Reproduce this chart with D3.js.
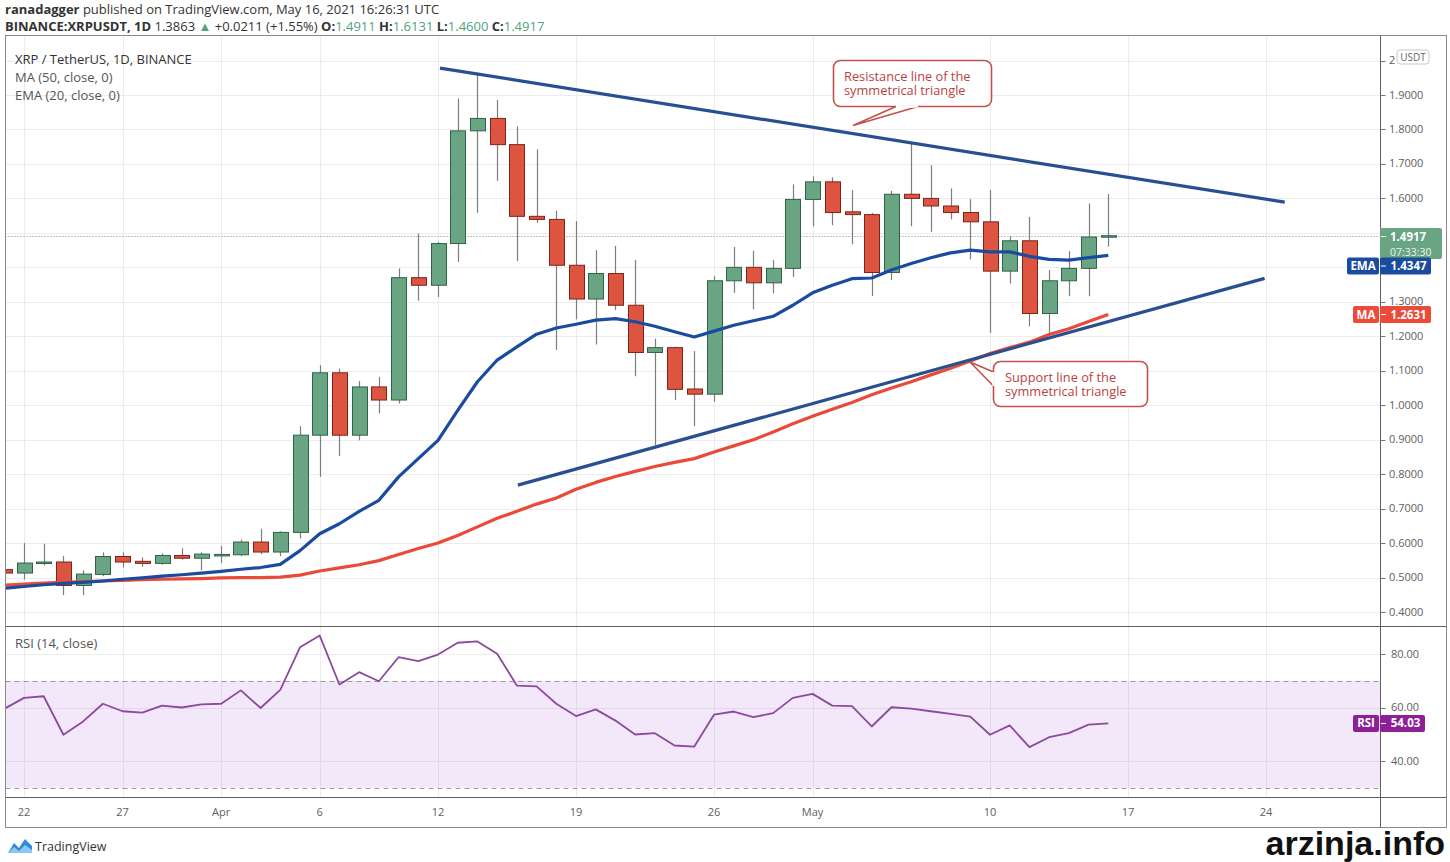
<!DOCTYPE html>
<html>
<head>
<meta charset="utf-8">
<script src="https://cdn.jsdelivr.net/npm/d3@7"></script>
<style>
  body { margin: 0; background: #fff; }
  svg { display: block; }
</style>
</head>
<body>
<svg id="chart" width="1450" height="862"></svg>
<script>
// XRP/USDT daily, Mar 21 .. May 16 2021 (day 0 = Mar 22)
const firstDay = -1;
const openP  = [0.523,0.513,0.541,0.545,0.477,0.509,0.561,0.547,0.541,0.564,0.556,
                0.567,0.566,0.603,0.574,0.631,0.913,1.094,0.913,1.053,1.015,1.370,1.348,1.469,1.796,1.832,1.756,1.548,1.539,1.406,1.308,1.382,1.290,1.153,1.167,1.047,1.032,1.361,1.400,1.355,1.397,
                1.597,1.648,1.561,1.553,1.385,1.612,1.600,1.578,1.559,1.532,1.389,1.477,1.266,1.361,1.397,1.4911];
const highP  = [0.530,0.600,0.598,0.562,0.521,0.573,0.573,0.558,0.570,0.585,0.573,
                0.592,0.610,0.641,0.634,0.939,1.116,1.106,1.070,1.082,1.397,1.498,1.474,1.890,1.964,1.885,1.809,1.742,1.564,1.534,1.450,1.462,1.421,1.193,1.170,1.157,1.374,1.459,1.448,1.421,1.641,
                1.664,1.661,1.624,1.558,1.622,1.764,1.696,1.629,1.598,1.624,1.490,1.546,1.392,1.447,1.585,1.6131];
const lowP   = [0.508,0.494,0.535,0.449,0.449,0.504,0.529,0.531,0.537,0.552,0.521,
                0.542,0.562,0.568,0.562,0.613,0.792,0.853,0.898,0.976,1.005,1.303,1.314,1.416,1.558,1.651,1.418,1.529,1.160,1.249,1.176,1.276,1.084,0.884,1.015,0.939,1.010,1.326,1.278,1.324,1.372,
                1.519,1.522,1.467,1.317,1.363,1.519,1.503,1.539,1.423,1.210,1.353,1.229,1.208,1.316,1.316,1.4600];
const closeP = [0.513,0.542,0.545,0.477,0.510,0.561,0.545,0.541,0.564,0.556,0.568,
                0.567,0.603,0.574,0.631,0.913,1.094,0.913,1.053,1.015,1.370,1.348,1.469,1.796,1.832,1.756,1.548,1.539,1.406,1.308,1.382,1.290,1.153,1.167,1.046,1.032,1.361,1.400,1.355,1.397,1.597,
                1.648,1.559,1.553,1.385,1.612,1.600,1.578,1.559,1.532,1.389,1.477,1.266,1.361,1.397,1.488,1.4917];
const ema20  = [0.469,0.474,0.479,0.483,0.486,0.490,0.495,0.499,0.504,0.508,0.513,
                0.518,0.524,0.529,0.538,0.578,0.627,0.656,0.692,0.724,0.792,0.845,0.898,0.985,1.068,1.131,1.169,1.206,1.224,1.235,1.247,1.251,1.242,1.229,1.213,1.198,1.215,1.232,1.245,1.258,1.290,
                1.326,1.348,1.367,1.369,1.392,1.411,1.428,1.442,1.450,1.445,1.445,1.432,1.423,1.421,1.428,1.4347];
const ma50   = [0.478,0.481,0.484,0.486,0.488,0.490,0.492,0.494,0.495,0.496,0.497,
                0.499,0.500,0.500,0.501,0.507,0.519,0.528,0.537,0.549,0.567,0.584,0.600,0.622,0.647,0.672,0.692,0.713,0.731,0.756,0.776,0.793,0.808,0.822,0.834,0.845,0.864,0.882,0.900,0.922,0.946,
                0.968,0.988,1.008,1.030,1.050,1.068,1.088,1.107,1.128,1.150,1.167,1.183,1.205,1.222,1.243,1.2631];
const rsi14  = [59.5,63.6,64.2,49.8,54.8,61.4,58.6,58.1,60.7,60.0,61.2,
                61.4,66.4,59.8,66.6,82.5,86.9,68.6,73.2,69.8,78.8,77.3,79.8,84.2,84.7,80.1,68.2,67.9,61.4,56.8,59.3,55.1,49.9,50.4,45.8,45.4,57.3,58.5,56.4,57.9,63.6,
                65.1,60.7,60.5,52.9,60.1,59.6,58.6,57.6,56.6,49.8,53.3,45.2,48.9,50.4,53.6,54.03];

const dayTicks   = [0, 5, 10, 15, 21, 28, 35, 40, 49, 56, 63];
const dayLabels  = ["22", "27", "Apr", "6", "12", "19", "26", "May", "10", "17", "24"];
const priceTicks = [0.4, 0.5, 0.6, 0.7, 0.8, 0.9, 1.0, 1.1, 1.2, 1.3, 1.4, 1.5, 1.6, 1.7, 1.8, 1.9, 2.0];
const rsiTicks   = [40, 60, 80];

// triangle drawn on the chart: [day, price]
const resistanceLine = [[21.1, 1.978], [63.95, 1.589]];
const supportLine    = [[25.05, 0.768], [62.93, 1.368]];

const lastPrice = 1.4917;
const FONT = "'Open Sans', 'Noto Sans', sans-serif";

const svg = d3.select("#chart");
const frame = {left: 5.5, right: 1446.5, top: 35.5, split: 626.5, rsiBottom: 797.5, bottom: 827.5, axis: 1380.5};

const x  = d3.scaleLinear().domain([0, 63]).range([24, 1266]);
const y  = d3.scaleLinear().domain([0.4, 1.9]).range([612, 95]);
const yr = d3.scaleLinear().domain([40, 80]).range([761, 654]);

const days = d3.range(openP.length).map(i => i + firstDay);
const candles = days.map((d, i) => ({day: d, o: openP[i], h: highP[i], l: lowP[i], c: closeP[i]}));

// clips
const defs = svg.append("defs");
defs.append("clipPath").attr("id", "clipPrice").append("rect")
    .attr("x", frame.left + 0.5).attr("y", frame.top + 0.5)
    .attr("width", frame.axis - frame.left - 1).attr("height", frame.split - frame.top - 1);
defs.append("clipPath").attr("id", "clipRsi").append("rect")
    .attr("x", frame.left + 0.5).attr("y", frame.split + 0.5)
    .attr("width", frame.axis - frame.left - 1).attr("height", frame.rsiBottom - frame.split - 1);

// header
const head1 = svg.append("text").attr("x", 5).attr("y", 14)
    .attr("font-family", FONT).attr("font-size", "13px").attr("fill", "#333");
head1.append("tspan").attr("font-weight", "bold").text("ranadagger");
head1.append("tspan").text(" published on TradingView.com, May 16, 2021 16:26:31 UTC");

const green = "#4fa37a";
const head2 = svg.append("text").attr("x", 5).attr("y", 31)
    .attr("font-family", FONT).attr("font-size", "13px").attr("fill", "#333");
head2.append("tspan").attr("font-weight", "bold").text("BINANCE:XRPUSDT, 1D");
head2.append("tspan").text(" 1.3863 ");
head2.append("tspan").attr("fill", green).text("▲");
head2.append("tspan").text(" +0.0211 (+1.55%) ");
[["O:", "1.4911"], ["H:", "1.6131"], ["L:", "1.4600"], ["C:", "1.4917"]].forEach(function (p, k) {
    head2.append("tspan").attr("font-weight", "bold").text((k ? " " : "") + p[0]);
    head2.append("tspan").attr("fill", green).text(p[1]);
});

// grid
const grid = svg.append("g").attr("stroke", "#ececec").attr("stroke-width", 1);
grid.selectAll(".vg").data(dayTicks).enter().append("line")
    .attr("x1", d => Math.round(x(d)) + 0.5).attr("x2", d => Math.round(x(d)) + 0.5)
    .attr("y1", frame.top).attr("y2", frame.rsiBottom);
grid.selectAll(".hg").data(priceTicks.filter(t => y(t) > frame.top)).enter().append("line")
    .attr("x1", frame.left).attr("x2", frame.axis)
    .attr("y1", d => Math.round(y(d)) + 0.5).attr("y2", d => Math.round(y(d)) + 0.5);
grid.selectAll(".rg").data(rsiTicks).enter().append("line")
    .attr("x1", frame.left).attr("x2", frame.axis)
    .attr("y1", d => Math.round(yr(d)) + 0.5).attr("y2", d => Math.round(yr(d)) + 0.5);

// RSI band 70-30
svg.append("rect").attr("x", frame.left).attr("width", frame.axis - frame.left)
    .attr("y", yr(70)).attr("height", yr(30) - yr(70))
    .attr("fill", "#a040d0").attr("fill-opacity", 0.12);
svg.selectAll(".band").data([70, 30]).enter().append("line")
    .attr("x1", frame.left).attr("x2", frame.axis)
    .attr("y1", d => Math.round(yr(d)) + 0.5).attr("y2", d => Math.round(yr(d)) + 0.5)
    .attr("stroke", "#9a9a9a").attr("stroke-dasharray", "5,4");

// last price dotted line
svg.append("line").attr("x1", frame.left).attr("x2", frame.axis)
    .attr("y1", Math.round(y(lastPrice)) + 0.5).attr("y2", Math.round(y(lastPrice)) + 0.5)
    .attr("stroke", "#888").attr("stroke-dasharray", "1,2");

// candles
const price = svg.append("g").attr("clip-path", "url(#clipPrice)");
const bw = 15;
price.selectAll(".wick").data(candles).enter().append("line")
    .attr("x1", d => Math.round(x(d.day)) + 0.5).attr("x2", d => Math.round(x(d.day)) + 0.5)
    .attr("y1", d => y(d.h)).attr("y2", d => y(d.l))
    .attr("stroke", "#7d7d7d").attr("stroke-width", 1.2);
price.selectAll(".body").data(candles).enter().append("rect")
    .attr("x", d => Math.round(x(d.day) - bw / 2) + 0.5)
    .attr("y", d => y(Math.max(d.o, d.c)))
    .attr("width", bw)
    .attr("height", d => Math.max(1.5, Math.abs(y(d.o) - y(d.c))))
    .attr("fill", d => d.c >= d.o ? "#6aa583" : "#dd5440")
    .attr("stroke", d => d.c >= d.o ? "#2f6346" : "#7e2418")
    .attr("stroke-width", 1);

// moving averages
const line = d3.line().x((d, i) => x(days[i])).y(d => y(d));
price.append("path").datum(ma50).attr("d", line)
    .attr("fill", "none").attr("stroke", "#ea4a38").attr("stroke-width", 3.2).attr("stroke-linejoin", "round");
price.append("path").datum(ema20).attr("d", line)
    .attr("fill", "none").attr("stroke", "#1b4b9e").attr("stroke-width", 3.2).attr("stroke-linejoin", "round");

// triangle lines
const tline = d3.line().x(d => x(d[0])).y(d => y(d[1]));
[resistanceLine, supportLine].forEach(function (seg) {
    price.append("path").datum(seg).attr("d", tline)
        .attr("fill", "none").attr("stroke", "#284f8f").attr("stroke-width", 3.2).attr("stroke-linecap", "butt");
});

// RSI line
const rsiG = svg.append("g").attr("clip-path", "url(#clipRsi)");
rsiG.append("path").datum(rsi14)
    .attr("d", d3.line().x((d, i) => x(days[i])).y(d => yr(d)))
    .attr("fill", "none").attr("stroke", "#8c4a9e").attr("stroke-width", 1.8).attr("stroke-linejoin", "round");

// callouts
function callout(box, tail, lines, tx) {
    const g = svg.append("g");
    const [x0, y0, x1, y1] = box;
    g.append("rect").attr("x", x0).attr("y", y0).attr("width", x1 - x0).attr("height", y1 - y0)
        .attr("rx", 7).attr("fill", "#fff").attr("stroke", "#c4504c").attr("stroke-width", 1.6);
    g.append("path").attr("d", "M" + tail[0] + "L" + tail[1] + "L" + tail[2])
        .attr("fill", "#fff").attr("stroke", "#c4504c").attr("stroke-width", 1.6);
    // hide the box edge under the tail base
    g.append("line").attr("x1", tail[0][0]).attr("y1", tail[0][1]).attr("x2", tail[2][0]).attr("y2", tail[2][1])
        .attr("stroke", "#fff").attr("stroke-width", 2.4);
    const t = g.append("text").attr("x", tx).attr("y", y0 + 20)
        .attr("font-family", FONT).attr("font-size", "12.8px").attr("fill", "#b9433f");
    lines.forEach(function (s, k) {
        t.append("tspan").attr("x", tx).attr("dy", k ? 14 : 0).text(s);
    });
}
callout([833.5, 60.5, 991.5, 106.5], [[918, 106.5], [853, 125.5], [896, 106.5]],
    ["Resistance line of the", "symmetrical triangle"], 844);
callout([993.5, 361.5, 1147.5, 406.5], [[993.5, 372], [970, 362], [993.5, 386]],
    ["Support line of the", "symmetrical triangle"], 1005);

// frame and separators
const fr = svg.append("g").attr("stroke", "#5f5f5f").attr("stroke-width", 1).attr("fill", "none");
fr.append("rect").attr("x", frame.left).attr("y", frame.top)
    .attr("width", frame.right - frame.left).attr("height", frame.bottom - frame.top).attr("stroke", "#8a8a8a");
fr.append("line").attr("x1", frame.left).attr("x2", frame.right).attr("y1", frame.split).attr("y2", frame.split);
fr.append("line").attr("x1", frame.left).attr("x2", frame.right).attr("y1", frame.rsiBottom).attr("y2", frame.rsiBottom);
fr.append("line").attr("x1", frame.axis).attr("x2", frame.axis).attr("y1", frame.top).attr("y2", frame.bottom);

// price axis; labels sitting under the value tags are hidden, as in the app
const tagZone = [226, 276];
const shownTicks = priceTicks.filter(t => y(t) < tagZone[0] || y(t) > tagZone[1]);
const axisG = svg.append("g").attr("font-family", FONT).attr("font-size", "11px").attr("fill", "#606060");
axisG.selectAll(".pt").data(shownTicks).enter().append("line")
    .attr("x1", frame.axis).attr("x2", frame.axis + 5)
    .attr("y1", d => Math.round(y(d)) + 0.5).attr("y2", d => Math.round(y(d)) + 0.5).attr("stroke", "#777");
axisG.selectAll(".pl").data(shownTicks).enter().append("text")
    .attr("x", 1389).attr("y", d => y(d) + 3.5).text(d => d >= 2 ? "2" : d3.format(".4f")(d));
axisG.selectAll(".rt").data(rsiTicks).enter().append("line")
    .attr("x1", frame.axis).attr("x2", frame.axis + 5)
    .attr("y1", d => Math.round(yr(d)) + 0.5).attr("y2", d => Math.round(yr(d)) + 0.5).attr("stroke", "#777");
axisG.selectAll(".rl").data(rsiTicks).enter().append("text")
    .attr("x", 1391).attr("y", d => yr(d) + 3.5).text(d => d3.format(".2f")(d));

// USDT unit box
svg.append("rect").attr("x", 1397).attr("y", 50).attr("width", 32).attr("height", 14).attr("rx", 3)
    .attr("fill", "#fff").attr("stroke", "#c8c8c8");
svg.append("text").attr("x", 1413).attr("y", 61).attr("text-anchor", "middle")
    .attr("font-family", FONT).attr("font-size", "10px").attr("fill", "#666").text("USDT");

// time axis
svg.append("g").selectAll("text").data(dayTicks).enter().append("text")
    .attr("x", d => x(d)).attr("y", 816).attr("text-anchor", "middle")
    .attr("font-family", FONT).attr("font-size", "11px").attr("fill", "#606060")
    .text((d, i) => dayLabels[i]);

// axis value labels
function tag(x0, x1, yc, h, fill, txt) {
    svg.append("rect").attr("x", x0).attr("y", yc - h / 2).attr("width", x1 - x0).attr("height", h)
        .attr("rx", 2).attr("fill", fill);
    svg.append("text").attr("x", (x0 + x1) / 2 + (x0 >= 1380 ? 3 : 0)).attr("y", yc + 4).attr("text-anchor", "middle")
        .attr("font-family", FONT).attr("font-size", "11.5px").attr("font-weight", "bold")
        .attr("fill", "#fff").text(txt);
    if (x0 >= 1380) {
        svg.append("line").attr("x1", 1381).attr("x2", 1386).attr("y1", yc).attr("y2", yc).attr("stroke", "#fff");
    }
}
// last price
svg.append("rect").attr("x", 1380).attr("y", 228).attr("width", 62).attr("height", 31).attr("rx", 2).attr("fill", "#6aa583");
svg.append("line").attr("x1", 1381).attr("x2", 1386).attr("y1", 236.5).attr("y2", 236.5).attr("stroke", "#fff");
svg.append("text").attr("x", 1390).attr("y", 241).attr("font-family", FONT).attr("font-size", "11.5px")
    .attr("font-weight", "bold").attr("fill", "#fff").text(d3.format(".4f")(lastPrice));
svg.append("text").attr("x", 1390).attr("y", 255.5).attr("font-family", FONT).attr("font-size", "10.5px")
    .attr("fill", "#e6f2ea").text("07:33:30");

const emaLast = ema20[ema20.length - 1];
const maLast = ma50[ma50.length - 1];
const rsiLast = rsi14[rsi14.length - 1];
// EMA tag is pushed below the last-price tag
const emaTagY = Math.max(y(emaLast), 259 + 8.5);
tag(1347, 1379, emaTagY - 1.5, 17, "#1b4b9e", "EMA");
tag(1380, 1431, emaTagY - 1.5, 17, "#1b4b9e", d3.format(".4f")(emaLast));
tag(1353, 1379, y(maLast), 17, "#ec4a3a", "MA");
tag(1380, 1431, y(maLast), 17, "#ec4a3a", d3.format(".4f")(maLast));
tag(1353, 1379, yr(rsiLast), 17, "#8e1f96", "RSI");
tag(1380, 1425, yr(rsiLast), 17, "#8e1f96", d3.format(".2f")(rsiLast));

// legends
const leg = svg.append("g").attr("font-family", FONT).attr("font-size", "13px");
leg.append("text").attr("x", 15).attr("y", 64).attr("fill", "#333").text("XRP / TetherUS, 1D, BINANCE");
leg.append("text").attr("x", 15).attr("y", 82).attr("fill", "#555").text("MA (50, close, 0)");
leg.append("text").attr("x", 15).attr("y", 100).attr("fill", "#555").text("EMA (20, close, 0)");
leg.append("text").attr("x", 15).attr("y", 648).attr("fill", "#555").text("RSI (14, close)");

// TradingView mark
const logo = svg.append("g");
logo.append("path").attr("d", "M8,853 L14,843 L19,848 L25,839 L32,846 L32,853 Z").attr("fill", "#2f8bd8");
logo.append("path").attr("d", "M8,853 L14,847 L19,851 L25,845 L32,850 L32,853 Z").attr("fill", "#8cc8f2");
svg.append("text").attr("x", 35).attr("y", 851).attr("font-family", FONT).attr("font-size", "12.5px")
    .attr("fill", "#333").text("TradingView");

// watermark
svg.append("text").attr("x", 1445).attr("y", 855).attr("text-anchor", "end")
    .attr("font-family", "'Liberation Sans', Arial, sans-serif").attr("font-size", "34px")
    .attr("font-weight", "bold").attr("fill", "#111").text("arzinja.info");
</script>
</body>
</html>
